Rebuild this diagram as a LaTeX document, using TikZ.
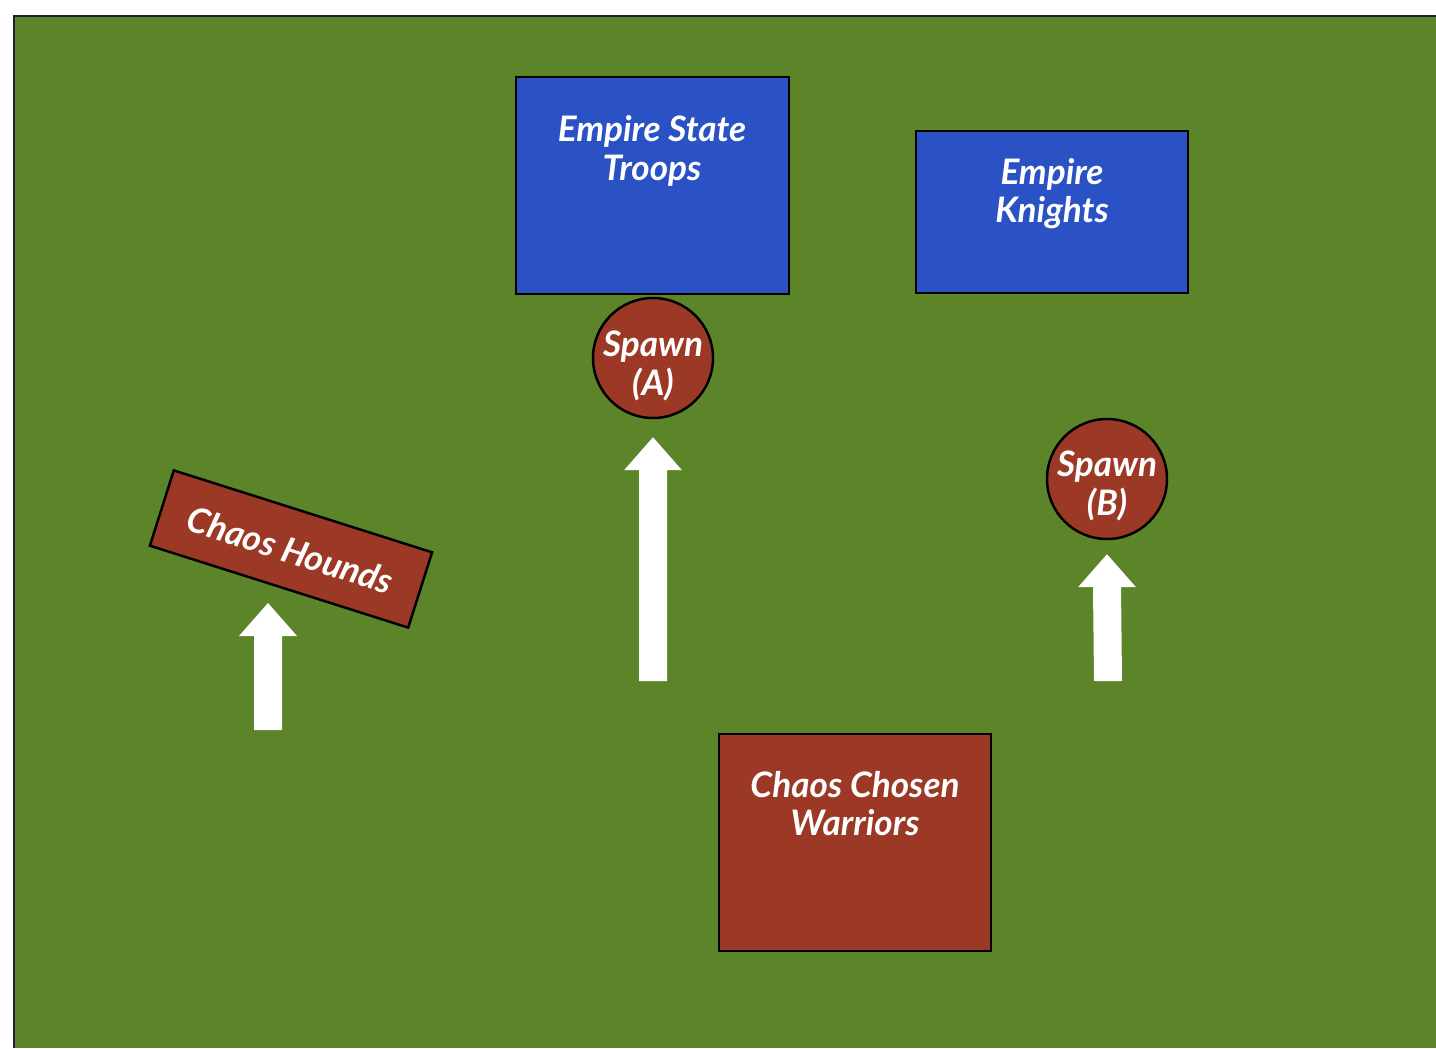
\documentclass[tikz,border=0pt]{standalone}
\usepackage{fontspec}
\setmainfont{Lato}
\usetikzlibrary{calc}
\definecolor{fieldgreen}{RGB}{92,132,40}
\definecolor{fieldedge}{RGB}{30,30,50}
\definecolor{empireblue}{RGB}{42,82,196}
\definecolor{chaosred}{RGB}{156,56,38}
\newcommand\pxu{0.02cm}
\newcommand\blockarrow[2]{%
  \fill[white] ($(#1)+(-14,0)$) -- ($(#2)+(-14,33)$) -- ($(#2)+(-29,33)$) -- (#2)
    -- ($(#2)+(29,33)$) -- ($(#2)+(14,33)$) -- ($(#1)+(14,0)$) -- cycle;}
\begin{document}
\begin{tikzpicture}[x=0.02cm,y=-0.02cm,
  unitbox/.style={draw=black,line width=1.4pt,inner sep=0pt},
  bluebox/.style={unitbox,fill=empireblue},
  redbox/.style={unitbox,fill=chaosred},
  spawncircle/.style={unitbox,circle,fill=chaosred,minimum size=120*\pxu},
  unittext/.style={text=white,align=center,font=\fontsize{20}{22}\selectfont\bfseries\itshape,inner sep=0pt}
]
\useasboundingbox (0,0) rectangle (1436,1048);
\fill[white] (0,0) rectangle (1436,1048);
\fill[fieldgreen] (14,16) rectangle (1436,1048);
\draw[fieldedge,line width=1.6pt] (14,1048) -- (14,16) -- (1436,16);

% Empire State Troops
\node[bluebox,minimum width=273*\pxu,minimum height=217*\pxu] (est) at (652.5,185.5) {};
\node[unittext] (esttext) at (652,151) {Empire State\\Troops};
% Empire Knights
\node[bluebox,minimum width=272*\pxu,minimum height=162*\pxu] (ek) at (1052,212) {};
\node[unittext] (ektext) at (1052,193.5) {Empire\\Knights};
% Spawn A and B
\node[spawncircle] (spa) at (653,358) {};
\node[unittext] (spatext) at (653,366) {Spawn\\(A)};
\node[spawncircle] (spb) at (1107,479) {};
\node[unittext] (spbtext) at (1107,486) {Spawn\\(B)};
% Chaos Hounds
\node[redbox,minimum width=271*\pxu,minimum height=79*\pxu,rotate=-17.6] (ch) at (291,549) {};
\node[unittext,rotate=-17.6] (chtext) at (290,550) {Chaos Hounds};
% Chaos Chosen Warriors
\node[redbox,minimum width=272*\pxu,minimum height=217*\pxu] (ccw) at (855,842.5) {};
\node[unittext] (ccwtext) at (855,803.5) {Chaos Chosen\\Warriors};

% movement arrows
\coordinate (a1tail) at (268,730);
\coordinate (a1tip) at (268,603);
\coordinate (a2tail) at (653,681);
\coordinate (a2tip) at ($(spa.south)+(0,18)$);
\coordinate (a3tail) at (1108,681);
\coordinate (a3tip) at ($(spb.south)+(0,14)$);
\blockarrow{a1tail}{a1tip}
\blockarrow{a2tail}{a2tip}
\blockarrow{a3tail}{a3tip}
\end{tikzpicture}
\end{document}
